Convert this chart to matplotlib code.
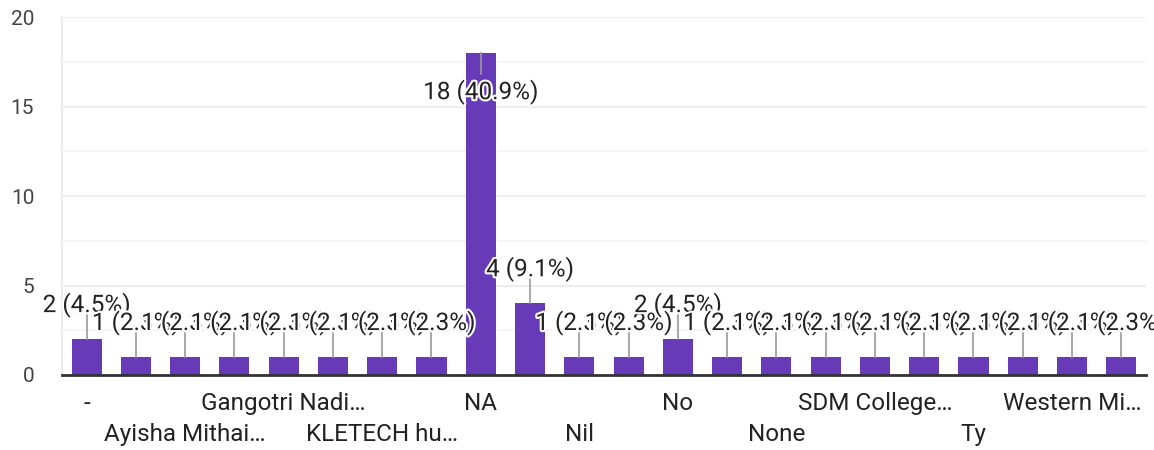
import matplotlib
matplotlib.use("Agg")
import matplotlib.pyplot as plt
import matplotlib.patheffects as pe
import numpy as np

plt.rcParams["font.family"] = ["Roboto", "DejaVu Sans"]

# Categorias (os rótulos não exibidos no gráfico original ficam vazios)
categories = [
    "-", "", "Ayisha Mithai…", "", "Gangotri Nadi…", "", "KLETECH hu…", "",
    "NA", "", "Nil", "", "No", "", "None", "", "SDM College…", "", "Ty", "",
    "Western Mi…", "",
]
counts = [2, 1, 1, 1, 1, 1, 1, 1, 18, 4, 1, 1, 2, 1, 1, 1, 1, 1, 1, 1, 1, 1]
y_ticks = [0, 5, 10, 15, 20]

BAR_COLOR = "#673ab7"
TEXT_COLOR = "#222222"
PX = 72 / 100  # pixels -> pontos

fig = plt.figure(figsize=(11.54, 4.5), dpi=100)
ax = fig.add_axes([0.0537, 0.1667, 0.9393, 0.7953])

x = np.arange(len(counts))
ax.bar(x, counts, width=0.61, color=BAR_COLOR, zorder=2)

ax.set_xlim(-0.5, len(counts) - 0.5)
ax.set_ylim(0, 20)

# Grade principal e secundária
ax.set_yticks(y_ticks)
ax.set_yticks(np.arange(2.5, 20, 5), minor=True)
ax.grid(axis="y", which="major", color="#ebebeb", linewidth=1.2, zorder=0)
ax.grid(axis="y", which="minor", color="#f4f4f4", linewidth=1.2, zorder=0)
ax.tick_params(axis="y", which="both", length=0, labelsize=15,
               labelcolor="#444444", pad=20)

for side in ["top", "right"]:
    ax.spines[side].set_visible(False)
ax.spines["left"].set_color("#e6e6e6")
ax.spines["left"].set_linewidth(1.2)
ax.spines["bottom"].set_color("#333333")
ax.spines["bottom"].set_linewidth(2)
ax.spines["bottom"].set_zorder(3)

# Rótulos do eixo x alternando em duas linhas
ax.set_xticks([])
for i, name in enumerate(categories):
    if not name:
        continue
    row = (i // 2) % 2
    ax.annotate(name, xy=(i, 0), xycoords=("data", "axes fraction"),
                xytext=(0, -(29 + 31 * row) * PX), textcoords="offset points",
                ha="center", va="center", fontsize=17.5, color=TEXT_COLOR,
                annotation_clip=False)

# Rótulos de valor com linha de chamada
total = sum(counts)
halo = [pe.withStroke(linewidth=3, foreground="white")]
for i, v in enumerate(counts):
    label = f"{v} ({v / total * 100:.1f}%)"
    if v > 10:
        y0, y1, yt = v, v - 1.2, v - 2.2
    else:
        y0, y1, yt = v, v + 1.35, v + 1.9
    ax.plot([i, i], [y0, y1], color="#999999", linewidth=1.2, zorder=3)
    ax.text(i, yt, label, ha="center", va="center", fontsize=17.5,
            color=TEXT_COLOR, zorder=4, path_effects=halo)

fig.savefig("out.png", dpi=100)
